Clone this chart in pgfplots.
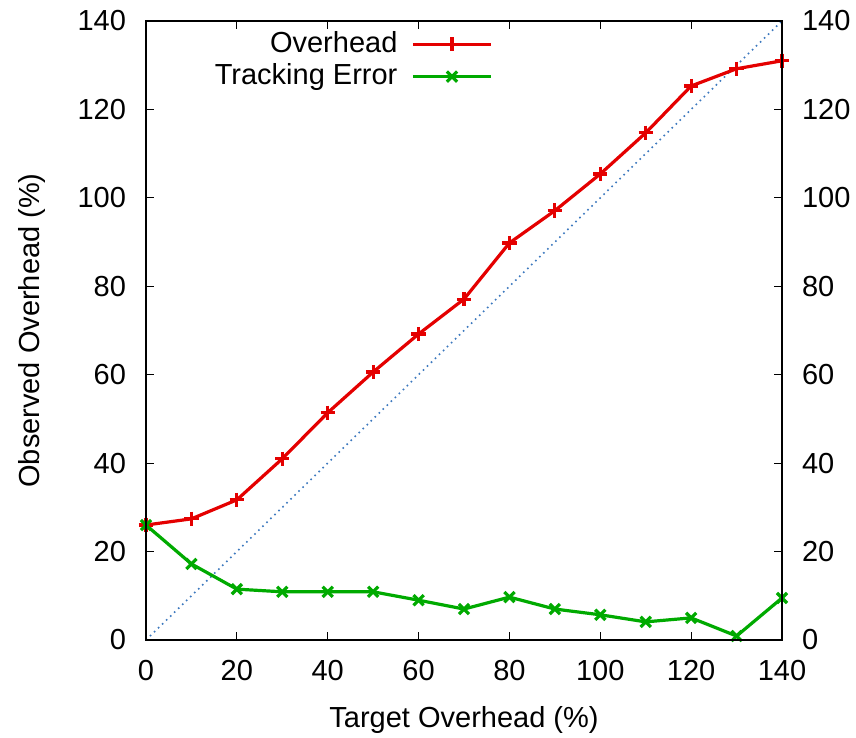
\documentclass[border=0pt]{standalone}
\usepackage{pgfplots}
\pgfplotsset{compat=1.18}
\usepackage{fontspec}
\setmainfont{Liberation Sans}
\definecolor{gred}{RGB}{228,0,0}
\definecolor{ggreen}{RGB}{0,170,0}
\definecolor{gblue}{RGB}{60,120,190}
\begin{document}
\fontsize{14.5}{17}\selectfont
\begin{tikzpicture}
\useasboundingbox (-73pt,-49pt) rectangle (355pt,320pt);
\pgfplotsset{
  common/.style={
    scale only axis, width=318pt, height=309.5pt,
    xmin=0, xmax=140, ymin=0, ymax=140,
    xtick={0,20,...,140}, ytick={0,20,...,140},
    tick align=inside, major tick length=4pt,
    tick style={black, line width=0.6pt},
    axis line style={line width=0.8pt},
    /pgf/number format/assume math mode=true,
    ticklabel style={font=\fontsize{14.5}{17}\selectfont},
    label style={font=\fontsize{14.5}{17}\selectfont},
  }
}
\begin{axis}[common,
  xlabel={Target Overhead (\%)}, ylabel={Observed Overhead (\%)},
  xticklabel style={yshift=-5pt}, yticklabel style={xshift=-5pt},
  xlabel style={yshift=-3pt}, ylabel style={yshift=6pt},
  legend style={draw=none, fill=none, at={(0.5456,0.99)}, anchor=north east,
    font=\fontsize{14.5}{17}\selectfont, inner sep=0pt, row sep=-0.5pt,
    /tikz/every odd column/.append style={column sep=5pt}},
  legend cell align=right, legend plot pos=right,
  legend image code/.code={\draw[mark repeat=2,mark phase=2,#1] plot coordinates {(0pt,0pt)(19.5pt,0pt)(39pt,0pt)};},
]
\addplot[gblue, dotted, line width=0.8pt, forget plot] coordinates {(0,0) (140,140)};
\addplot[gred, line width=1.6pt, mark=+, mark size=3.6pt, mark options={line width=1.6pt}] coordinates {
(0,26.0) (10,27.4) (20,31.7) (30,41.0) (40,51.4) (50,60.6) (60,69.2) (70,77.1)
(80,89.8) (90,97.1) (100,105.4) (110,114.7) (120,125.3) (130,129.2) (140,131.0)};
\addlegendentry{Overhead}
\addplot[ggreen, line width=1.6pt, mark=x, mark size=3.6pt, mark options={line width=1.6pt}] coordinates {
(0,26.0) (10,17.2) (20,11.5) (30,10.9) (40,10.9) (50,10.9) (60,9.0) (70,7.0)
(80,9.7) (90,7.0) (100,5.7) (110,4.1) (120,5.0) (130,0.9) (140,9.5)};
\addlegendentry{Tracking Error}
\end{axis}
\begin{axis}[common, xticklabels={}, yticklabel pos=right, yticklabel style={xshift=5pt}]
\end{axis}
\end{tikzpicture}
\end{document}
